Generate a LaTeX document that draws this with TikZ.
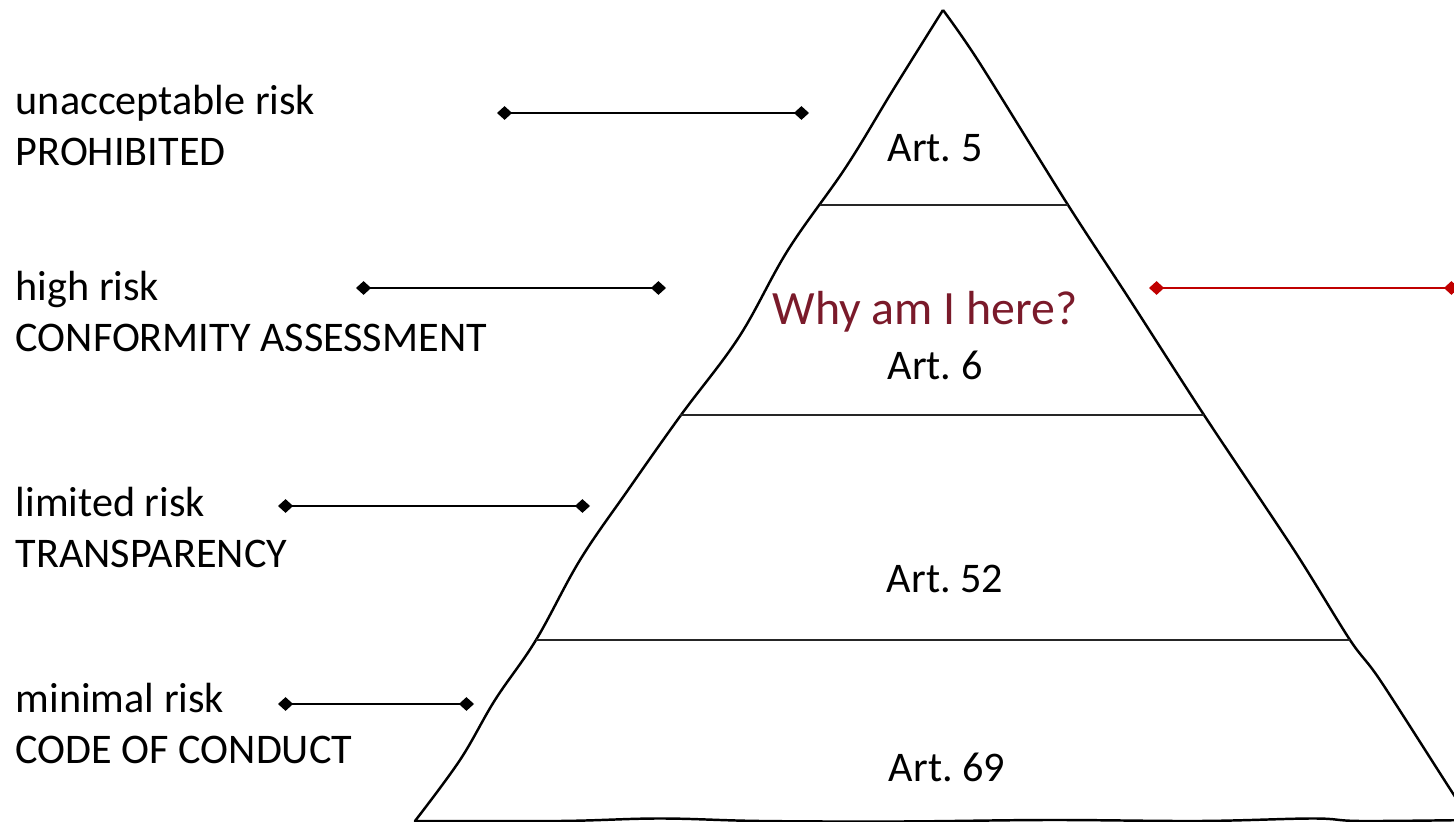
\documentclass[tikz,border=0pt]{standalone}
\usepackage{fontspec}
\setmainfont{Carlito}
\usetikzlibrary{arrows.meta}
\definecolor{whyred}{RGB}{122,26,42}
\definecolor{linkred}{RGB}{192,0,0}
\frenchspacing

\begin{document}
\begin{tikzpicture}[x=0.01cm, y=-0.01cm,
    level/.style = {font=\fontsize{12pt}{14.6pt}\selectfont, inner sep=0pt},
    risk/.style = {level, align=left, anchor=base west},
    art/.style = {level, anchor=base},
    link/.style = {line width=0.7pt,
        {Diamond[length=4.3pt,width=3.9pt]}-{Diamond[length=4.3pt,width=3.9pt]}},
    outline/.style = {line width=0.7pt, line join=round},
    divider/.style = {line width=0.4pt, black!85}]

\useasboundingbox (0,0) rectangle (1454,822);

% pyramid
\draw[outline]
  plot[smooth, tension=0.6] coordinates {(943,10) (893,90) (846,167)
    (788,250) (739,337) (681,415) (628,490) (580,560) (536,640)
    (495,700) (460,760) (415,821)}
  -- plot[smooth, tension=0.6] coordinates {(415,821) (560,821) (660,818.5)
    (760,821) (900,821.5) (1050,820) (1200,821) (1313,818.5) (1360,821)
    (1471,820)}
  -- plot[smooth, tension=0.5] coordinates {(1471,820) (1452,792)
    (1380,680) (1350,640) (1294,550) (1204,415) (1128,297)
    (1068,205) (979,62) (943,10)};

\draw[divider] (820,205) -- (1068,205);
\draw[divider] (680,415) -- (1204,415);
\draw[divider] (536,640) -- (1350,640);

% levels
\node[art] (a5) at (935,162) {Art. 5};
\node[level,
    anchor = base,
    font = \fontsize{13.6pt}{16pt}\selectfont,
    text = whyred] (why) at (925,325) {Why am I here?};
\node[art] (a6) at (935,380) {Art. 6};
\node[art] (a52) at (945,593) {Art. 52};
\node[art] (a69) at (947,782) {Art. 69};

% labels on the left
\node[risk] (r1) at (15,166) {unacceptable risk\\PROHIBITED};
\node[risk] (r2) at (15,352) {high risk\\CONFORMITY ASSESSMENT};
\node[risk] (r3) at (15,568) {limited risk\\TRANSPARENCY};
\node[risk] (r4) at (15,764) {minimal risk\\CODE OF CONDUCT};

% connectors
\coordinate (p1) at (497,113);
\coordinate (q1) at (809,113);
\coordinate (p2) at (356,288);
\coordinate (q2) at (666,288);
\coordinate (p3) at (278,506);
\coordinate (q3) at (590,506);
\coordinate (p4) at (278,704);
\coordinate (q4) at (474,704);
\coordinate (p5) at (1149,288);
\coordinate (q5) at (1459,288);

\draw[link] (p1) -- (q1);
\draw[link] (p2) -- (q2);
\draw[link] (p3) -- (q3);
\draw[link] (p4) -- (q4);
\draw[link, linkred] (p5) -- (q5);

\end{tikzpicture}
\end{document}
